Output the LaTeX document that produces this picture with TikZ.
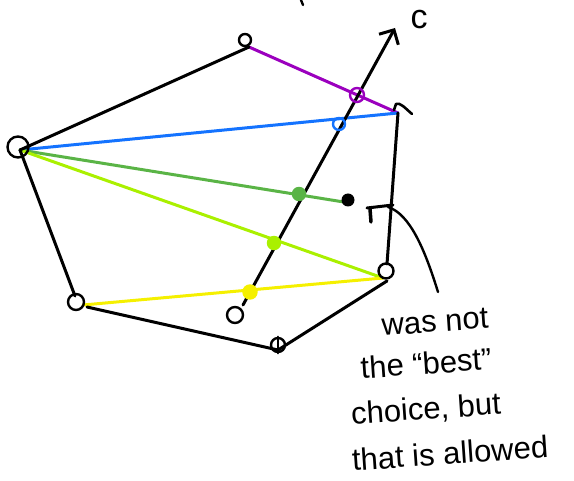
\documentclass[tikz,border=0pt]{standalone}
\usepackage{fontspec}
\setmainfont{Liberation Sans}
\usetikzlibrary{arrows.meta}
\definecolor{cpurple}{RGB}{155,0,190}
\definecolor{cblue}{RGB}{20,115,255}
\definecolor{cgreen}{RGB}{90,180,70}
\definecolor{clime}{RGB}{170,240,0}
\definecolor{cyellow}{RGB}{245,240,0}
\begin{document}
\begin{tikzpicture}[x=1pt,y=-1pt, line cap=round, line join=round,
  edge/.style={line width=3pt},
  vtx/.style={draw, circle, line width=2.4pt, inner sep=0pt},
  cross/.style={circle, inner sep=0pt, line width=2.4pt, minimum size=#1},
  note/.style={font=\fontsize{31}{34}\selectfont, inner sep=0pt, rotate=4}]
\useasboundingbox (0,0) rectangle (574,481);
% polygon points
\coordinate (L) at (20,150);
\coordinate (T) at (249,47);
\coordinate (RT) at (398,113);
\coordinate (RB) at (383,278);
\coordinate (RB2) at (387,281);
\coordinate (RB3) at (387,264);
\coordinate (B) at (278,350);
\coordinate (BL) at (83,305);
\coordinate (BL2) at (87,307);
\coordinate (BL3) at (75,296);
\coordinate (Q) at (350,203);
\coordinate (C0) at (243,305);
\coordinate (C1) at (395,28);
% colored diagonals
\draw[edge, cpurple] (T) -- (RT);
\draw[edge, cblue] (L) -- (RT);
\draw[edge, cgreen] (L) -- (Q);
\draw[edge, clime] (L) -- (RB);
\draw[edge, cyellow] (BL) -- (RB);
% black edges
\draw[edge] (L) -- (T);
\draw[edge] (RT) -- (RB3);
\draw[edge] (RB2) -- (B);
\draw[edge] (B) -- (BL2);
\draw[edge] (BL3) -- (L);
% axis c
\draw[edge, -{Straight Barb[length=11pt, width=22pt, line width=3pt]}] (C0) -- (C1);
\node[font=\fontsize{34}{34}\selectfont, inner sep=0pt] (clab) at (419,20) {c};
% vertex circles
\node[vtx, minimum size=21pt] (Lc) at (18,147) {};
\node[vtx, minimum size=12pt] (Tc) at (245,40) {};
\node[vtx, minimum size=15pt] (RBc) at (386,271) {};
\node[vtx, minimum size=14pt] (Bc) at (278,345) {};
\draw[line width=2.4pt] (Bc.north) -- (Bc.south);
\node[vtx, minimum size=16pt] (BLc) at (76,302) {};
\node[vtx, minimum size=16pt] (C0c) at (235,315) {};
\node[circle, fill, inner sep=0pt, minimum size=13pt] (Qd) at (348,200) {};
\draw[line width=2.6pt] (394,110) -- (396,104) .. controls (400,102) and (405,108) .. (412,114);
% intersection marks
\node[cross=14pt, draw=cpurple] (m1) at (357,95) {};
\node[cross=12pt, draw=cblue] (m2) at (339,124) {};
\node[cross=12pt, draw=cgreen, fill=cgreen] (m3) at (299,194) {};
\node[cross=12pt, draw=clime, fill=clime] (m4) at (274,243) {};
\node[cross=13pt, draw=cyellow, fill=cyellow] (m5) at (250,292) {};
% r mark and pointer
\draw[line width=3.5pt] (370,209) -- (371,222);
\draw[line width=3pt] (367,208) -- (393,205);
\draw[line width=2.4pt] (388,207) .. controls (410,214) and (425,250) .. (438,292);
\draw[line width=2.4pt] (301,0) -- (303,5);
% note
\node[note] (t1) at (435,322) {was not};
\node[note] (t2) at (426,363) {the “best”};
\node[note] (t3) at (426,410) {choice, but};
\node[note] (t4) at (450,453) {that is allowed};
\end{tikzpicture}
\end{document}
